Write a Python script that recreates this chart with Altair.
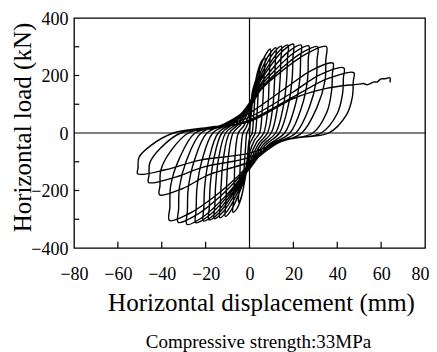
import altair as alt
import pandas as pd

# ---- tick values ----
x_ticks = [-80, -60, -40, -20, 0, 20, 40, 60, 80]
y_ticks = [-400, -300, -200, -100, 0, 100, 200, 300, 400]
x_inner_ticks = [-60, -40, -20, 20, 40, 60]
y_inner_ticks = [-300, -200, -100, 100, 200, 300]

# ---- hysteresis cycles (displacement mm, load kN) ----
cycle01 = [(0, 0), (1.2, 100), (2.0, 131), (2.5, 140), (2.3, 105), (1.8, 50), (1.2, 0), (0, -20),
           (-1.2, -100), (-2.0, -131), (-2.5, -140)]
cycle02 = [(-2.3, -105), (-1.8, -50), (-1.2, 0), (0, 20), (1.5, 120), (2.8, 180), (3.8, 207), (4.5, 215),
           (4.3, 180), (3.9, 130), (3.4, 65), (2.6, 0), (1.3, -20), (0, -40), (-1.6, -130), (-3, -200),
           (-4.2, -232), (-5, -240)]
cycle03 = [(-4.8, -204), (-4.4, -144), (-4.0, -72), (-3.0, 0), (-1.5, 20), (0, 50), (1.8, 135), (3.6, 210),
           (5.5, 250), (7, 262), (6.8, 223), (6.4, 157), (5.8, 79), (4.6, 0), (2.3, -25), (0, -70),
           (-1.9, -155), (-3.8, -226), (-5.9, -265), (-7.5, -276)]
cycle04 = [(-7.3, -235), (-6.9, -166), (-6.6, -83), (-5.1, 0), (-2.6, 25), (0, 70), (1.4, 146), (3.8, 204),
           (7.1, 269), (9.5, 292), (9.3, 248), (8.9, 175), (8.4, 88), (6.5, 0), (3.3, -32), (0, -90),
           (-1.65, -145), (-4.4, -203), (-8.25, -267), (-11, -290)]
cycle05 = [(-10.8, -247), (-10.4, -174), (-9.7, -87), (-7.5, 0), (-3.85, 30), (0, 85), (1.8, 149), (4.8, 208),
           (9, 273), (12, 297), (11.8, 252), (11.4, 178), (10.6, 89), (8.2, 0), (4.2, -37), (0, -105),
           (-2.0, -148), (-5.4, -207), (-10.1, -271), (-13.5, -295)]
cycle06 = [(-13.3, -251), (-12.9, -177), (-11.9, -89), (-9.2, 0), (-4.7, 33), (0, 95), (2.2, 151), (5.8, 211),
           (10.9, 278), (14.5, 302), (14.3, 257), (13.9, 181), (12.8, 91), (9.9, 0), (5.1, -40), (0, -115),
           (-2.4, -149), (-6.4, -209), (-12, -274), (-16, -298)]
cycle07 = [(-15.8, -253), (-15.4, -179), (-14.1, -89), (-10.9, 0), (-5.6, 35), (0, 100), (2.6, 153), (7, 214),
           (13.1, 282), (17.5, 306), (17.3, 260), (16.9, 184), (15.4, 92), (11.9, 0), (6.1, -42), (0, -120),
           (-2.8, -151), (-7.4, -211), (-13.9, -278), (-18.5, -302)]
cycle08 = [(-18.3, -257), (-17.9, -181), (-16.3, -91), (-12.6, 0), (-6.5, 37), (0, 105), (3, 155), (8, 216),
           (15, 284), (20, 309), (19.8, 263), (19.4, 185), (17.6, 93), (13.6, 0), (7, -44), (0, -125),
           (-3.15, -153), (-8.4, -214), (-15.75, -282), (-21, -306)]
cycle09 = [(-20.8, -260), (-20.4, -184), (-18.5, -92), (-14.3, 0), (-7.35, 37), (0, 105), (3.5, 153), (9.4, 214),
           (17.6, 282), (23.5, 306), (23.3, 260), (22.9, 184), (20.7, 92), (16, 0), (8.2, -44), (0, -125),
           (-3.7, -156), (-9.8, -218), (-18.4, -287), (-24.5, -312)]
cycle10 = [(-24.3, -265), (-23.9, -187), (-21.6, -94), (-16.7, 0), (-8.6, 35), (0, 100), (4.05, 152), (10.8, 212),
           (20.25, 279), (27, 303), (26.8, 258), (26.4, 182), (23.8, 91), (18.4, 0), (9.45, -42), (0, -120),
           (-4.3, -159), (-11.4, -223), (-21.4, -293), (-28.5, -318)]
cycle11 = [(-28.3, -270), (-27.9, -191), (-25.1, -95), (-19.4, 0), (-10, 33), (0, 95), (4.65, 150), (12.4, 210),
           (23.25, 276), (31, 300), (30.8, 255), (30.4, 180), (27.3, 90), (21.1, 0), (10.85, -40), (0, -115),
           (-4.9, -156), (-13, -218), (-24.4, -286), (-32.5, -311)]
cycle12 = [(-32.3, -264), (-31.9, -187), (-28.6, -93), (-22.1, 0), (-11.4, 32), (0, 90), (5.25, 151), (14, 211),
           (26.25, 277), (35, 301), (34.8, 256), (34.4, 181), (30.8, 90), (23.8, 0), (12.25, -38), (0, -110),
           (-5.5, -152), (-14.6, -213), (-27.4, -280), (-36.5, -304)]
cycle13 = [(-36.3, -258), (-35.9, -182), (-32.1, -91), (-24.8, 0), (-12.8, 25), (0, 70), (17.1, 160),
           (28.5, 219), (38, 243), (37.8, 207), (37.4, 146), (35.3, 73), (28.9, 0), (14, -30), (0, -100),
           (-18.45, -145), (-30.75, -194), (-41, -215)]
cycle14 = [(-40.8, -183), (-40.4, -129), (-36.1, -65), (-27.9, 0), (-14.35, 20), (0, 55), (19.35, 140),
           (32.25, 203), (43, 226), (42.8, 192), (42.4, 136), (40, 68), (32.7, 0), (16, -25), (0, -85),
           (-20.7, -118), (-34.5, -155), (-46, -172)]
cycle15 = [(-45.8, -146), (-45.4, -103), (-40.5, -52), (-31.3, 0), (-16.1, 16), (0, 45), (21.4, 132),
           (35.6, 189), (47.5, 210), (47.3, 179), (46.9, 126), (44.2, 63), (36.1, 0), (18, -20), (0, -70),
           (-23, -95), (-38.25, -128), (-51, -142)]
final_push = [(-50.8, -121), (-50.4, -85), (-44.9, -43), (-34.7, 0), (-17.85, 20), (0, 40), (20, 120),
              (35, 155), (47, 168), (50, 170), (52, 172), (53.5, 168), (55, 172), (57, 178), (58, 177),
              (60, 188), (62, 189), (64, 192), (64, 176)]

cycles = [cycle01, cycle02, cycle03, cycle04, cycle05, cycle06, cycle07, cycle08,
          cycle09, cycle10, cycle11, cycle12, cycle13, cycle14, cycle15, final_push]

rows = []
for cyc in cycles:
    for (dx, p) in cyc:
        rows.append({"i": len(rows), "x": dx, "y": p})
curve_df = pd.DataFrame(rows)

FONT = "Liberation Serif"

xscale = alt.Scale(domain=[-80, 80], nice=False, zero=False)
yscale = alt.Scale(domain=[-400, 400], nice=False, zero=False)

curve = alt.Chart(curve_df).mark_line(
    color="black", strokeWidth=1.4, interpolate="catmull-rom", strokeJoin="miter"
).encode(
    x=alt.X("x:Q", scale=xscale, axis=alt.Axis(
        values=x_ticks, title="Horizontal displacement (mm)", labelPadding=17,
        labelFlush=False, labelOverlap=False, ticks=False, tickSize=0,
        labelOffset={"condition": {"test": "datum.value == 80", "value": -5}, "value": 0},
        titleX=187, titleY=62, titleAlign="center", titleBaseline="alphabetic")),
    y=alt.Y("y:Q", scale=yscale, axis=alt.Axis(
        values=y_ticks, title="Horizontal load (kN)", labelPadding=6,
        labelOverlap=False, ticks=False, tickSize=0, labelOffset=1,
        titleX=-52, titleY=109, titleAlign="center", titleBaseline="middle", titleAngle=270)),
    order="i:Q",
)

zero_v = alt.Chart(pd.DataFrame({"x": [0]})).mark_rule(color="black", strokeWidth=1.2).encode(
    x=alt.X("x:Q", scale=xscale))
zero_h = alt.Chart(pd.DataFrame({"y": [0]})).mark_rule(color="black", strokeWidth=1.2).encode(
    y=alt.Y("y:Q", scale=yscale))

xt_df = pd.DataFrame({"x": x_inner_ticks, "y": [-400] * len(x_inner_ticks), "y2": [-378] * len(x_inner_ticks)})
yt_df = pd.DataFrame({"y": y_inner_ticks, "x": [-80] * len(y_inner_ticks), "x2": [-77.6] * len(y_inner_ticks)})
xtick_marks = alt.Chart(xt_df).mark_rule(color="black", strokeWidth=1.2).encode(
    x=alt.X("x:Q", scale=xscale), y=alt.Y("y:Q", scale=yscale), y2="y2:Q")
ytick_marks = alt.Chart(yt_df).mark_rule(color="black", strokeWidth=1.2).encode(
    y=alt.Y("y:Q", scale=yscale), x=alt.X("x:Q", scale=xscale), x2="x2:Q")

chart = alt.layer(zero_v, zero_h, xtick_marks, ytick_marks, curve).properties(
    width=351, height=230,
    autosize=alt.AutoSizeParams(type="none"),
    padding={"left": 66, "top": 10, "right": 4, "bottom": 104},
    title=alt.TitleParams(text="Compressive strength:33MPa", orient="bottom", font=FONT,
                          fontSize=19, fontWeight="normal", color="black", anchor="middle",
                          offset=18, dx=9),
).configure_axis(
    labelFont=FONT, labelFontSize=18, labelColor="black",
    titleFont=FONT, titleFontSize=25, titleFontWeight="normal", titleColor="black",
    grid=False, domain=False,
).configure_view(
    stroke="black", strokeWidth=1.3
)

chart.save("out.html", embed_options={"renderer": "svg", "actions": False})
